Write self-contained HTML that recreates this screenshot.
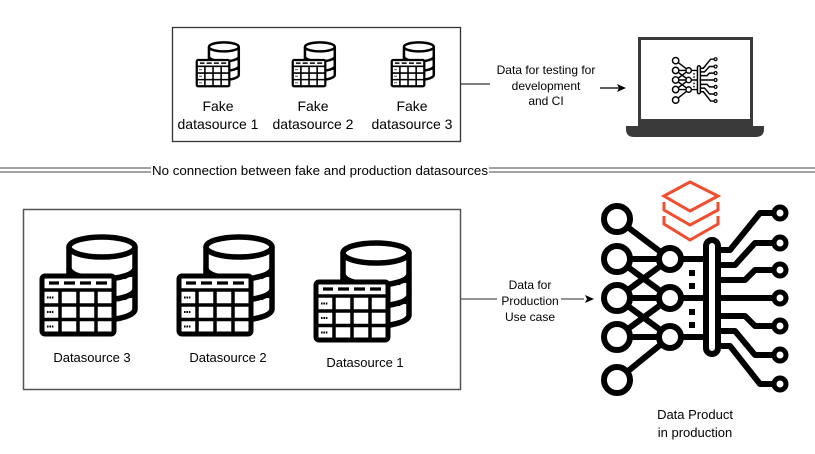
<!DOCTYPE html>
<html><head><meta charset="utf-8"><style>
html,body{margin:0;padding:0;background:#fff;}
svg{display:block;font-family:"Liberation Sans",Arial,sans-serif;}
</style></head><body>
<svg width="815" height="454" viewBox="0 0 815 454" xmlns="http://www.w3.org/2000/svg">
<defs>
<symbol id="db" viewBox="0 0 100 104">
 <path d="M30 13 V75 A33 11 0 0 0 96 75 V13" fill="#fff" stroke="#000" stroke-width="5.5"/>
 <ellipse cx="63" cy="13" rx="33" ry="10" fill="#fff" stroke="#000" stroke-width="5.5"/>
 <path d="M30 34 A33 11 0 0 0 96 34 M30 55 A33 11 0 0 0 96 55" fill="none" stroke="#000" stroke-width="5.5"/>
 <g fill="#000"><circle cx="80" cy="44" r="2.1"/><circle cx="86" cy="43" r="2.1"/><circle cx="92" cy="41" r="2.1"/>
 <circle cx="80" cy="65" r="2.1"/><circle cx="86" cy="64" r="2.1"/><circle cx="92" cy="62" r="2.1"/>
 <circle cx="80" cy="84" r="2.1"/><circle cx="86" cy="83" r="2.1"/><circle cx="92" cy="81" r="2.1"/></g>
 <rect x="3" y="42" width="72" height="58" rx="3" fill="#fff" stroke="#000" stroke-width="5"/>
 <path d="M3 56 H75 M3 71 H75 M3 85.5 H75 M21 56 V100 M39 56 V100 M57 56 V100" stroke="#000" stroke-width="3.5" fill="none"/>
 <path d="M10 49 H20 M25 49 H36 M41 49 H52 M57 49 H68" stroke="#000" stroke-width="3.2"/>
 <path d="M8 63.5 H15 M8 78 H15 M8 92.5 H15" stroke="#000" stroke-width="2" stroke-dasharray="1.6 0.8"/>
</symbol>
<symbol id="net" viewBox="598 200 196 196">
 <g fill="none" stroke="#000" stroke-width="6" stroke-linecap="round" stroke-linejoin="round">
  <path d="M617 219 L670 259 M617 259 H712 M617 259 L670 298 M617 298 H712 M617 298 L670 259 M617 298 L670 337 M617 337 H712 M617 337 L670 298 M617 380 L670 337"/>
  <path d="M712 250 H730 L760 213 H780"/>
  <path d="M712 265 H735 L755 243 H780"/>
  <path d="M712 280 H745 L755 270 H780"/>
  <path d="M712 298 H780"/>
  <path d="M712 316 H745 L755 326 H780"/>
  <path d="M712 331 H735 L755 355 H780"/>
  <path d="M712 346 H730 L760 384 H780"/>
 </g>
 <g fill="#fff" stroke="#000" stroke-width="6">
  <circle cx="617" cy="219" r="13"/><circle cx="617" cy="259" r="13"/><circle cx="617" cy="298" r="13"/><circle cx="617" cy="337" r="13"/><circle cx="617" cy="380" r="13"/>
  <circle cx="670" cy="259" r="11"/><circle cx="670" cy="298" r="11"/><circle cx="670" cy="337" r="11"/>
  <rect x="706" y="240" width="12" height="114" rx="6"/>
 </g>
 <g fill="#fff" stroke="#000" stroke-width="5">
  <circle cx="780" cy="213" r="6"/><circle cx="780" cy="243" r="6"/><circle cx="780" cy="270" r="6"/><circle cx="780" cy="298" r="6"/><circle cx="780" cy="326" r="6"/><circle cx="780" cy="355" r="6"/><circle cx="780" cy="384" r="6"/>
 </g>
 <g fill="#000"><rect x="689" y="270" width="6" height="6"/><rect x="689" y="283" width="6" height="6"/><rect x="689" y="309" width="6" height="6"/><rect x="689" y="322" width="6" height="6"/></g>
</symbol>
</defs>

<!-- top box -->
<rect x="172.5" y="27.5" width="288" height="114" fill="none" stroke="#333" stroke-width="1.3"/>
<use href="#db" x="193" y="41" width="50" height="47"/>
<use href="#db" x="289" y="41" width="50" height="47"/>
<use href="#db" x="388" y="41" width="50" height="47"/>
<g font-size="14" text-anchor="middle" fill="#000">
<text x="218" y="111">Fake</text><text x="218" y="129">datasource 1</text>
<text x="313" y="111">Fake</text><text x="313" y="129">datasource 2</text>
<text x="412" y="111">Fake</text><text x="412" y="129">datasource 3</text>
</g>
<line x1="461" y1="84" x2="490" y2="84" stroke="#333" stroke-width="1.2"/>
<g font-size="12" text-anchor="middle"><text x="546" y="74">Data for testing for</text><text x="546" y="90">development</text><text x="546" y="105">and CI</text></g>
<line x1="600" y1="88" x2="620" y2="88" stroke="#000" stroke-width="1.2"/>
<path d="M626 88 L617 84 L619 88 L617 92 Z" fill="#000"/>

<!-- laptop -->
<rect x="638" y="37" width="115" height="89" fill="#3a3a3a"/>
<rect x="641" y="40" width="109" height="79" fill="#fff"/>
<path d="M626 126 H764 V129 Q764 137 756 137 H634 Q626 137 626 129 Z" fill="#3a3a3a"/>
<use href="#net" x="671" y="56" width="48" height="48"/>

<!-- separator -->
<line x1="0" y1="168" x2="815" y2="168" stroke="#444" stroke-width="1"/>
<line x1="0" y1="172" x2="815" y2="172" stroke="#444" stroke-width="1"/>
<rect x="151" y="161" width="338" height="17" fill="#fff"/>
<text x="152" y="175" font-size="13.3" textLength="336" lengthAdjust="spacingAndGlyphs">No  connection between fake and production datasources</text>

<!-- bottom box -->
<rect x="23.5" y="209.5" width="437" height="180" fill="none" stroke="#555" stroke-width="1.5"/>
<use href="#db" x="39" y="234" width="100" height="104"/>
<use href="#db" x="176" y="234" width="100" height="104"/>
<use href="#db" x="313" y="240" width="100" height="104"/>
<g font-size="13" text-anchor="middle">
<text x="92" y="362">Datasource 3</text><text x="228" y="362">Datasource 2</text><text x="365" y="367">Datasource 1</text>
</g>
<line x1="461" y1="299" x2="584" y2="299" stroke="#555" stroke-width="1.2"/>
<rect x="497" y="291" width="64" height="15" fill="#fff"/>
<g font-size="12" text-anchor="middle"><text x="530" y="289">Data  for</text><text x="530" y="305">Production</text><text x="530" y="321">Use case</text></g>
<path d="M594 299 L585 295 L587 299 L585 303 Z" fill="#000"/>

<!-- data product -->
<use href="#net" x="598" y="200" width="196" height="196"/>
<g fill="none" stroke="#f04e2f" stroke-width="3" stroke-linejoin="miter">
 <path d="M664 196 L690 182 L718 196 L690 211 Z"/>
 <path d="M664 202 V210 L690 225 L718 210 V202"/>
 <path d="M664 216 V224 L690 240 L718 224 V216"/>
</g>
<g font-size="13" text-anchor="middle"><text x="695" y="419">Data Product</text><text x="695" y="437">in production</text></g>
</svg>
</body></html>
